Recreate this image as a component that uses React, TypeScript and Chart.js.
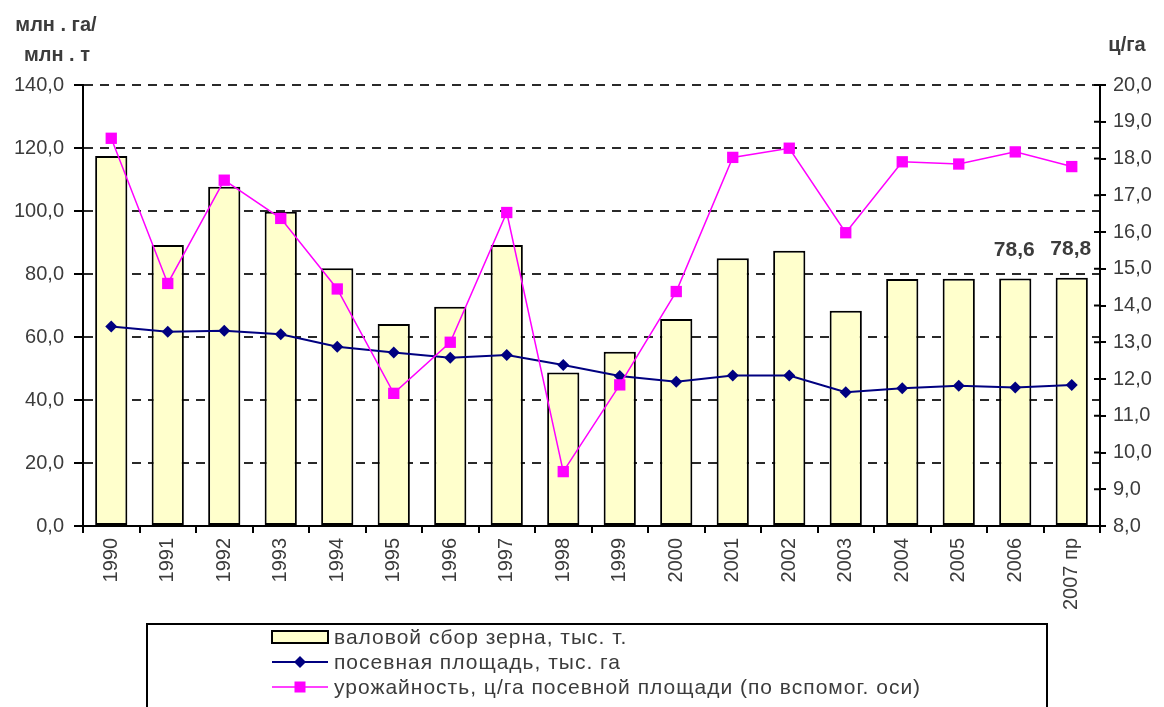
import React, { useEffect, useRef } from 'react';
import { Chart, registerables } from 'chart.js';

Chart.register(...registerables);

const years = ['1990', '1991', '1992', '1993', '1994', '1995', '1996', '1997', '1998', '1999', '2000', '2001', '2002', '2003', '2004', '2005', '2006', '2007 пр'];
const grossHarvest = [117.5, 89.2, 107.7, 99.8, 81.8, 64.1, 69.6, 89.2, 48.7, 55.3, 65.7, 85.0, 87.4, 68.3, 78.4, 78.5, 78.6, 78.8];
const sownArea = [63.3, 61.7, 62.0, 60.9, 56.9, 55.1, 53.4, 54.3, 51.1, 47.6, 45.8, 47.8, 47.8, 42.5, 43.7, 44.5, 44.0, 44.8];
const yieldPerHa = [18.55, 14.6, 17.41, 16.37, 14.45, 11.61, 13.0, 16.53, 9.48, 11.84, 14.38, 18.03, 18.28, 15.98, 17.91, 17.85, 18.18, 17.78];
const labeledCategories = ['2006', '2007 пр'];

const leftAxis = { min: 0, max: 140, step: 20 };
const rightAxis = { min: 8, max: 20, step: 1 };
const leftTitle = ['млн . га/', 'млн . т'];
const rightTitle = 'ц/га';
const seriesNames = [
  'валовой сбор зерна, тыс. т.',
  'посевная площадь, тыс. га',
  'урожайность, ц/га посевной площади (по вспомог. оси)',
];

const FONT = "'Liberation Sans', Arial, sans-serif";
const TEXT = '#3c3c3c';
const BAR_FILL = '#ffffcc';
const NAVY = '#000080';
const MAGENTA = '#ff00ff';

const fmt = (v: number) => v.toFixed(1).replace('.', ',');

const extras = {
  id: 'extras',
  afterDraw(chart: any) {
    const { ctx, chartArea } = chart;
    ctx.save();
    // axis titles
    ctx.fillStyle = TEXT;
    ctx.font = `bold 20px ${FONT}`;
    ctx.textAlign = 'center';
    ctx.textBaseline = 'middle';
    ctx.fillText(leftTitle[0], 56, 25);
    ctx.fillText(leftTitle[1], 57, 55);
    ctx.fillText(rightTitle, 1127, 45);

    // inner tick marks on right axis
    const y1 = chart.scales.y1;
    ctx.strokeStyle = '#000';
    ctx.lineWidth = 2;
    y1.ticks.forEach((t: any) => {
      const py = y1.getPixelForValue(t.value);
      ctx.beginPath();
      ctx.moveTo(chartArea.right - 6, py);
      ctx.lineTo(chartArea.right, py);
      ctx.stroke();
    });

    // data labels
    const meta = chart.getDatasetMeta(0);
    ctx.font = `bold 21px ${FONT}`;
    ctx.textAlign = 'center';
    ctx.textBaseline = 'bottom';
    ctx.fillStyle = TEXT;
    labeledCategories.forEach((c) => {
      const i = years.indexOf(c);
      const el = meta.data[i];
      ctx.fillText(fmt(grossHarvest[i]), el.x - 1, el.y - 18);
    });

    // legend
    const bx = 147, by = 624, bw = 900, bh = 100;
    ctx.lineWidth = 2;
    ctx.strokeStyle = '#000';
    ctx.strokeRect(bx, by, bw, bh);
    const rows = [637, 662, 687];
    const sx0 = 272, sx1 = 328, tx = 334;
    // row 1 swatch
    ctx.fillStyle = BAR_FILL;
    ctx.fillRect(sx0, rows[0] - 6, sx1 - sx0, 12);
    ctx.strokeStyle = '#000';
    ctx.lineWidth = 2;
    ctx.strokeRect(sx0, rows[0] - 6, sx1 - sx0, 12);
    // row 2 line + diamond
    ctx.strokeStyle = NAVY;
    ctx.lineWidth = 2;
    ctx.beginPath();
    ctx.moveTo(sx0, rows[1]);
    ctx.lineTo(sx1, rows[1]);
    ctx.stroke();
    ctx.fillStyle = NAVY;
    const cx = (sx0 + sx1) / 2;
    ctx.beginPath();
    ctx.moveTo(cx, rows[1] - 6);
    ctx.lineTo(cx + 6, rows[1]);
    ctx.lineTo(cx, rows[1] + 6);
    ctx.lineTo(cx - 6, rows[1]);
    ctx.closePath();
    ctx.fill();
    // row 3 line + square
    ctx.strokeStyle = MAGENTA;
    ctx.lineWidth = 1.5;
    ctx.beginPath();
    ctx.moveTo(sx0, rows[2]);
    ctx.lineTo(sx1, rows[2]);
    ctx.stroke();
    ctx.fillStyle = MAGENTA;
    ctx.fillRect(cx - 5.5, rows[2] - 5.5, 11, 11);
    // texts
    ctx.fillStyle = TEXT;
    ctx.font = `21px ${FONT}`;
    (ctx as any).letterSpacing = '1px';
    ctx.textAlign = 'left';
    ctx.textBaseline = 'middle';
    seriesNames.forEach((s, i) => ctx.fillText(s, tx, rows[i] + 1));
    (ctx as any).letterSpacing = '0px';
    ctx.restore();
  },
};

export default function App() {
  const ref = useRef<HTMLCanvasElement | null>(null);
  useEffect(() => {
    if (!ref.current) return;
    const chart = new Chart(ref.current, {
      type: 'bar',
      data: {
        labels: years,
        datasets: [
          {
            type: 'bar',
            label: seriesNames[0],
            data: grossHarvest,
            backgroundColor: BAR_FILL,
            borderColor: '#000',
            borderWidth: 2,
            borderSkipped: false,
            barPercentage: 0.57,
            categoryPercentage: 1,
            yAxisID: 'y',
            order: 3,
          },
          {
            type: 'line',
            label: seriesNames[1],
            data: sownArea,
            borderColor: NAVY,
            backgroundColor: NAVY,
            borderWidth: 2,
            pointStyle: 'rectRot',
            pointRadius: 6,
            pointBorderWidth: 0,
            yAxisID: 'y',
            order: 2,
          },
          {
            type: 'line',
            label: seriesNames[2],
            data: yieldPerHa,
            borderColor: MAGENTA,
            backgroundColor: MAGENTA,
            borderWidth: 1.5,
            pointStyle: 'rect',
            pointRadius: 8,
            pointBorderWidth: 0,
            yAxisID: 'y1',
            order: 1,
          },
        ],
      },
      options: {
        animation: false,
        responsive: false,
        devicePixelRatio: 1,
        layout: { padding: { top: 85, left: 0, right: 0, bottom: 0 } },
        plugins: { legend: { display: false }, tooltip: { enabled: false } },
        scales: {
          x: {
            afterFit: (s: any) => { s.height = 181; },
            grid: { display: true, drawOnChartArea: false, offset: true, tickLength: 7, color: '#000', lineWidth: 2 },
            border: { display: true, color: '#000', width: 2 },
            ticks: {
              minRotation: 90,
              maxRotation: 90,
              autoSkip: false,
              padding: 5,
              color: TEXT,
              font: { family: FONT, size: 20 },
            },
          },
          y: {
            position: 'left',
            min: leftAxis.min,
            max: leftAxis.max,
            afterFit: (s: any) => { s.width = 83; },
            grid: {
              drawOnChartArea: true,
              color: (c: any) => (c.tick && c.tick.value === 0 ? 'rgba(0,0,0,0)' : '#2a2a2a'),
              lineWidth: 2,
              tickLength: 9,
              tickColor: '#000',
              tickWidth: 2,
            },
            border: { display: true, color: '#000', width: 2, dash: [9, 7] },
            ticks: {
              stepSize: leftAxis.step,
              padding: 10,
              color: TEXT,
              font: { family: FONT, size: 20 },
              callback: (v: any) => fmt(Number(v)),
            },
          },
          y1: {
            position: 'right',
            min: rightAxis.min,
            max: rightAxis.max,
            afterFit: (s: any) => { s.width = 64; },
            grid: { drawOnChartArea: false, tickLength: 6, color: '#000', lineWidth: 2 },
            border: { display: true, color: '#000', width: 2 },
            ticks: {
              stepSize: rightAxis.step,
              padding: 7,
              color: TEXT,
              font: { family: FONT, size: 20 },
              callback: (v: any) => fmt(Number(v)),
            },
          },
        },
      },
      plugins: [extras],
    });
    return () => chart.destroy();
  }, []);
  return (
    <div style={{ position: 'absolute', left: 0, top: 0, width: 1164, height: 707, background: '#fff' }}>
      <canvas ref={ref} width={1164} height={707} style={{ display: 'block' }} />
    </div>
  );
}
